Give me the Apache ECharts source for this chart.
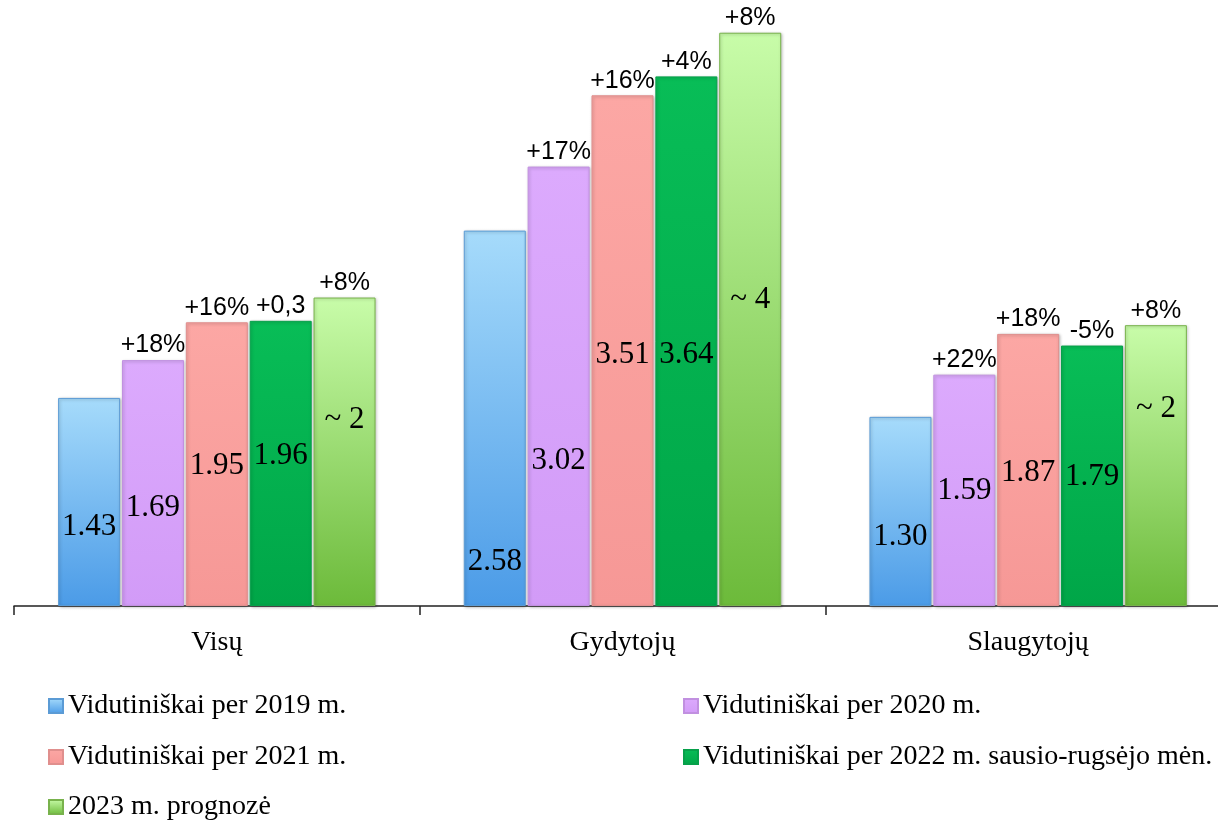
<!DOCTYPE html>
<html>
<head>
<meta charset="utf-8">
<script src="https://cdn.jsdelivr.net/npm/echarts@6/dist/echarts.min.js"></script>
<style>
    html, body { margin: 0; padding: 0; background: #ffffff; }
    #chart { width: 1218px; height: 822px; }
</style>
</head>
<body>
<div id="chart"></div>
<script>
var categories = ['Visų', 'Gydytojų', 'Slaugytojų'];

var seriesNames = [
    'Vidutiniškai per 2019 m.',
    'Vidutiniškai per 2020 m.',
    'Vidutiniškai per 2021 m.',
    'Vidutiniškai per 2022 m. sausio-rugsėjo mėn.',
    '2023 m. prognozė'
];

var values2019 = [1.43, 2.58, 1.30];
var values2020 = [1.69, 3.02, 1.59];
var values2021 = [1.95, 3.51, 1.87];
var values2022 = [1.96, 3.64, 1.79];
var values2023 = [2.12, 3.94, 1.93];

// texts inside the bars
var inside2019 = ['1.43', '2.58', '1.30'];
var inside2020 = ['1.69', '3.02', '1.59'];
var inside2021 = ['1.95', '3.51', '1.87'];
var inside2022 = ['1.96', '3.64', '1.79'];
var inside2023 = ['~ 2', '~ 4', '~ 2'];

// change texts above the bars
var change2019 = ['', '', ''];
var change2020 = ['+18%', '+17%', '+22%'];
var change2021 = ['+16%', '+16%', '+18%'];
var change2022 = ['+0,3', '+4%', '-5%'];
var change2023 = ['+8%', '+8%', '+8%'];

var allValues = [values2019, values2020, values2021, values2022, values2023];
var allInside = [inside2019, inside2020, inside2021, inside2022, inside2023];
var allChange = [change2019, change2020, change2021, change2022, change2023];

// vertical nudge of the inside labels (they were placed by hand in the original)
var insideShift = [
    [25, 144, 25],
    [25, 75, 1],
    [2, 4, 3],
    [-8, 14, 1],
    [-32, -20, -57]
];

function grad(top, bottom) {
    return {
        type: 'linear', x: 0, y: 0, x2: 0, y2: 1,
        colorStops: [
            { offset: 0, color: top },
            { offset: 1, color: bottom }
        ]
    };
}

var barColors = [
    grad('#a6dbfb', '#4b9be7'),
    grad('#dcaafd', '#d29bf7'),
    grad('#fca7a4', '#f69896'),
    grad('#08bd57', '#00a648'),
    grad('#c8fca9', '#6cba3a')
];
var borderColors = ['#5b9bd5', '#c190e0', '#e08f8d', '#07a04a', '#78b24c'];

var BAR_W = 62;
var series = [];

for (var s = 0; s < 5; s++) {
    (function (s) {
        var items = allValues[s].map(function (v, i) {
            return {
                value: v,
                label: { offset: [0, insideShift[s][i]] }
            };
        });
        series.push({
            name: seriesNames[s],
            type: 'bar',
            stack: 'g' + s,
            barWidth: BAR_W,
            barGap: '3%',
            data: items,
            itemStyle: {
                color: barColors[s],
                borderColor: borderColors[s],
                borderWidth: 1,
                shadowColor: 'rgba(0,0,0,0.25)',
                shadowBlur: 3,
                shadowOffsetX: 1,
                shadowOffsetY: 1
            },
            label: {
                show: true,
                position: 'inside',
                fontFamily: 'Liberation Serif',
                fontSize: 31,
                color: '#000',
                formatter: function (p) { return allInside[s][p.dataIndex]; }
            }
        });
        series.push({
            name: 'change' + s,
            type: 'bar',
            stack: 'g' + s,
            barWidth: BAR_W,
            barGap: '3%',
            silent: true,
            data: allValues[s].map(function () { return 0; }),
            itemStyle: { color: 'transparent' },
            label: {
                show: true,
                position: 'top',
                distance: 2,
                fontFamily: 'Liberation Sans',
                fontSize: 25,
                color: '#000',
                formatter: function (p) { return allChange[s][p.dataIndex]; }
            }
        });
    })(s);
}

var legendText = {
    fontFamily: 'Liberation Serif',
    fontSize: 28,
    color: '#000'
};

// one legend per entry, laid out in two columns
var legendSlots = [
    { left: 48, top: 692 },
    { left: 683, top: 692 },
    { left: 48, top: 743 },
    { left: 683, top: 743 },
    { left: 48, top: 793 }
];
var legends = seriesNames.map(function (name, i) {
    return {
        left: legendSlots[i].left,
        top: legendSlots[i].top,
        padding: 0,
        itemWidth: 14,
        itemHeight: 14,
        itemGap: 5,
        icon: 'rect',
        textStyle: legendText,
        data: [name]
    };
});

var chart = echarts.init(document.getElementById('chart'));
chart.setOption({
    backgroundColor: '#ffffff',
    animation: false,
    grid: { left: 14, width: 1217, top: 24, bottom: 216, outerBoundsMode: 'none' },
    xAxis: {
        type: 'category',
        data: categories,
        axisLine: { lineStyle: { color: '#222', width: 1.5 } },
        axisTick: { show: true, length: 9, lineStyle: { color: '#222', width: 1.5 } },
        axisLabel: {
            margin: 23,
            fontFamily: 'Liberation Serif',
            fontSize: 28,
            color: '#000'
        }
    },
    yAxis: {
        type: 'value',
        min: 0,
        max: 4,
        show: false
    },
    legend: legends,
    series: series
});
</script>
</body>
</html>
